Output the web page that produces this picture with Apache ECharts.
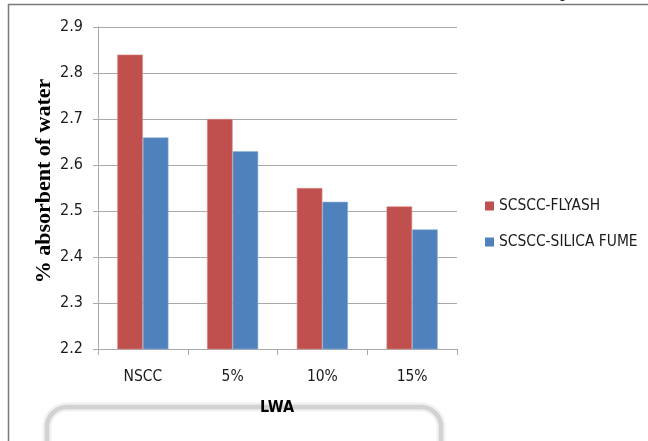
<!DOCTYPE html>
<html>
<head>
<meta charset="utf-8">
<script src="https://cdn.jsdelivr.net/npm/echarts@6/dist/echarts.min.js"></script>
<style>
  html, body { margin: 0; padding: 0; background: #ffffff; }
  #chart { width: 648px; height: 441px; }
</style>
</head>
<body>
<div id="chart"></div>
<script>
// Water absorption by lightweight aggregate replacement level
const categories = ['NSCC', '5%', '10%', '15%'];
const flyash = [2.84, 2.70, 2.55, 2.51];
const silicaFume = [2.66, 2.63, 2.52, 2.46];
const seriesNames = ['SCSCC-FLYASH', 'SCSCC-SILICA FUME'];
const yTitle = '% absorbent of water';
const xTitle = 'LWA';

const narrow = '"Liberation Sans Narrow", "DejaVu Sans Condensed", "Liberation Sans", sans-serif';
const gridColor = '#a9a9a9';

const chart = echarts.init(document.getElementById('chart'), null, { renderer: 'canvas' });

chart.setOption({
  backgroundColor: '#ffffff',
  animation: false,
  grid: { left: 98, right: 191, top: 27, bottom: 92, containLabel: false },
  legend: {
    orient: 'vertical',
    left: 485,
    top: 197,
    padding: 0,
    itemWidth: 9,
    itemHeight: 9,
    itemGap: 18,
    icon: 'rect',
    data: seriesNames,
    itemStyle: { borderWidth: 0 },
    textStyle: { fontFamily: narrow, fontSize: 15.4, color: '#1a1a1a', lineHeight: 18 }
  },
  xAxis: {
    type: 'category',
    data: categories,
    axisLine: { lineStyle: { color: gridColor, width: 1 } },
    axisTick: { show: true, length: 6, lineStyle: { color: gridColor } },
    axisLabel: { fontFamily: narrow, fontSize: 15.5, color: '#1a1a1a', margin: 20 },
    splitLine: { show: false }
  },
  yAxis: {
    type: 'value',
    min: 2.2,
    max: 2.9,
    interval: 0.1,
    axisLine: { show: true, lineStyle: { color: gridColor, width: 1 } },
    axisTick: { show: true, length: 5, lineStyle: { color: gridColor } },
    axisLabel: {
      fontFamily: narrow, fontSize: 16, color: '#1a1a1a', margin: 15,
      formatter: v => v.toFixed(1)
    },
    splitLine: { show: true, lineStyle: { color: gridColor, width: 1 } }
  },
  series: [
    {
      name: seriesNames[0],
      type: 'bar',
      data: flyash,
      barGap: '0%',
      barCategoryGap: '43%',
      itemStyle: { color: '#C0504D', borderColor: '#d88a88', borderWidth: 0.6 }
    },
    {
      name: seriesNames[1],
      type: 'bar',
      data: silicaFume,
      barGap: '0%',
      barCategoryGap: '43%',
      itemStyle: { color: '#4F81BD', borderColor: '#8fb0d8', borderWidth: 0.6 }
    }
  ],
  graphic: [
    // page frame around the chart
    { type: 'line', shape: { x1: 8, y1: 4.5, x2: 648, y2: 4.5 }, style: { stroke: '#7a7a7a', lineWidth: 1.5 } },
    { type: 'line', shape: { x1: 8.5, y1: 4, x2: 8.5, y2: 441 }, style: { stroke: '#7a7a7a', lineWidth: 1.5 } },
    // descender of a letter from the line above the frame
    { type: 'text', left: 560, top: -19, style: { text: 'p', font: '20px "Liberation Serif", serif', fill: '#111111' } },
    // faded rounded box beneath the chart
    { type: 'rect', shape: { x: 47, y: 407, width: 394, height: 80, r: 20 }, style: { fill: 'none', stroke: '#f0f0ee', lineWidth: 9 }, z: 1 },
    { type: 'rect', shape: { x: 47, y: 407, width: 394, height: 80, r: 20 }, style: { fill: 'none', stroke: '#d2d2d2', lineWidth: 4.5 }, z: 2 },
    // axis titles
    {
      type: 'text', x: 44, y: 181, rotation: Math.PI / 2, z: 10,
      style: { text: yTitle, font: 'bold 22px "Liberation Serif", "Times New Roman", serif', fill: '#000000', align: 'center', verticalAlign: 'middle' }
    },
    {
      type: 'text', x: 277, y: 408, z: 10,
      style: { text: xTitle, font: 'bold 16px ' + narrow, fill: '#000000', align: 'center', verticalAlign: 'middle' }
    }
  ]
});
</script>
</body>
</html>
